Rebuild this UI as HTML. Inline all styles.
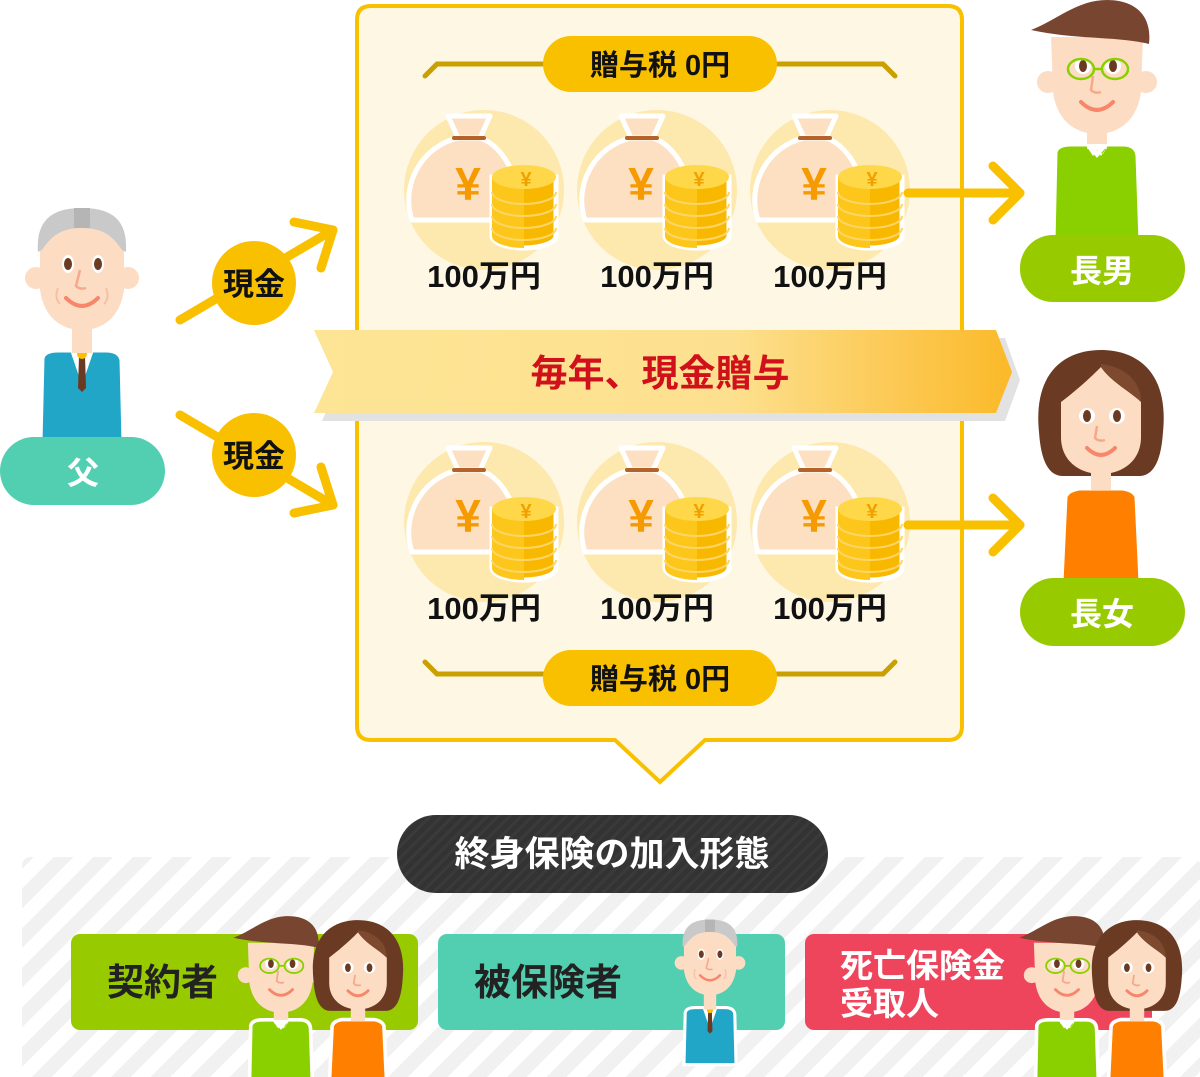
<!DOCTYPE html>
<html><head><meta charset="utf-8"><style>
html,body{margin:0;padding:0;background:#fff;}
svg{display:block;}
text{font-family:"Liberation Sans","Noto Sans CJK JP",sans-serif;font-weight:bold;}
</style></head><body>
<svg width="1200" height="1077" viewBox="0 0 1200 1077" xmlns="http://www.w3.org/2000/svg">
<defs>
<pattern id="st" width="28" height="28" patternUnits="userSpaceOnUse" patternTransform="rotate(45)">
<rect width="28" height="28" fill="#fff"/><rect width="14" height="28" fill="#f1f1f1"/>
</pattern>
<pattern id="dk" width="8" height="8" patternUnits="userSpaceOnUse" patternTransform="rotate(45)">
<rect width="8" height="8" fill="#333"/><rect width="3" height="8" fill="#3a3a3a"/>
</pattern>
<linearGradient id="bn" x1="0" x2="1"><stop offset="0" stop-color="#fde595"/><stop offset="0.6" stop-color="#fde08f"/><stop offset="1" stop-color="#fbb929"/></linearGradient>
<g id="bag">
<circle cx="0" cy="0" r="80" fill="#fde8ad"/>
<path d="M-36,-74 L6,-74 L-4,-52 L-26,-52Z" fill="#fde0c2" stroke="#fff" stroke-width="5" stroke-linejoin="round"/>
<path d="M-26,-52 C-62,-44 -84,-5 -72,30 L32,30 C42,0 22,-44 -4,-52Z" fill="#fde0c2" stroke="#fff" stroke-width="5" stroke-linejoin="round"/>
<line x1="-30" y1="-52" x2="0" y2="-52" stroke="#b4622a" stroke-width="4" stroke-linecap="round"/>
<text x="-16" y="10" font-size="46" fill="#f59a00" text-anchor="middle">¥</text>
<path d="M8,-13 L8,46 A32,12 0 0 0 72,46 L72,-13 Z" fill="#f9b800" stroke="#fff" stroke-width="5"/>
<path d="M8,-13 L8,46 A32,12 0 0 0 40,58 L40,-13 Z" fill="#fcc61a"/>
<g stroke="#fdd66a" stroke-width="2" fill="none">
<path d="M8,2 A32,12 0 0 0 72,2"/><path d="M8,14 A32,12 0 0 0 72,14"/><path d="M8,26 A32,12 0 0 0 72,26"/><path d="M8,38 A32,12 0 0 0 72,38"/></g>
<ellipse cx="40" cy="-13" rx="32" ry="12" fill="#ffd84a"/>
<text x="42" y="-4" font-size="20" fill="#f0a000" text-anchor="middle">¥</text>
</g>
<g id="man">
<path d="M-42,80 Q-40,72 -26,72 L26,72 Q40,72 41,84 L44,170 L-44,170Z" fill="#8acf00" stroke="#fff" stroke-width="5"/>
<rect x="-10" y="55" width="20" height="22" fill="#fddcc4"/>
<path d="M-12,72 L0,86 L12,72 L6,82 Z M-12,72 L-4,84 L0,78 L4,84 L12,72Z" fill="#fff"/>
<circle cx="-49" cy="10" r="11" fill="#fddcc4"/><circle cx="49" cy="10" r="11" fill="#fddcc4"/>
<path d="M-46,-35 L46,-35 L44,20 C40,50 20,62 0,62 C-20,62 -40,50 -44,20Z" fill="#fddcc4"/>
<path d="M-66,-42 C-40,-52 -20,-72 10,-72 C40,-72 55,-55 52,-28 C20,-36 -20,-32 -66,-42Z" fill="#784530"/>
<circle cx="-14" cy="-6" r="8" fill="#fff"/><circle cx="16" cy="-6" r="8" fill="#fff"/>
<ellipse cx="-14" cy="-6" rx="4" ry="6" fill="#6b3a23"/><ellipse cx="16" cy="-6" rx="4" ry="6" fill="#6b3a23"/>
<g fill="none" stroke="#8acf00" stroke-width="2.5"><ellipse cx="-16" cy="-3" rx="13" ry="10"/><ellipse cx="18" cy="-3" rx="13" ry="10"/><line x1="-3" y1="-3" x2="5" y2="-3"/></g>
<path d="M-4,4 L-6,18 Q-2,22 4,20" fill="none" stroke="#f7a88a" stroke-width="2.5"/>
<path d="M-16,30 Q0,46 16,30" fill="none" stroke="#f7866a" stroke-width="4" stroke-linecap="round"/>
</g>
<g id="woman">
<path d="M-36,75 Q-34,68 -22,66 L22,66 Q34,68 36,75 L40,160 L-40,160Z" fill="#ff8000" stroke="#fff" stroke-width="5"/>
<path d="M-62,10 C-68,-50 -36,-72 0,-72 C36,-72 68,-50 62,10 C60,40 52,54 38,54 L-38,54 C-52,54 -60,40 -62,10Z" fill="#6b3a23"/>
<rect x="-10" y="40" width="20" height="28" fill="#fddcc4"/>
<path d="M-40,-20 C-20,-35 -5,-50 0,-55 C10,-40 30,-30 40,-20 L40,15 C40,40 20,52 0,52 C-20,52 -40,40 -40,15Z" fill="#fddcc4"/>
<path d="M0,-55 C10,-40 30,-30 40,-20 C40,-40 25,-55 0,-58Z" fill="#7d4a30"/>
<circle cx="-14" cy="-6" r="8" fill="#fff"/><circle cx="16" cy="-6" r="8" fill="#fff"/>
<ellipse cx="-14" cy="-6" rx="4" ry="6" fill="#6b3a23"/><ellipse cx="16" cy="-6" rx="4" ry="6" fill="#6b3a23"/>
<path d="M-4,4 L-6,16 Q-2,20 4,18" fill="none" stroke="#f7a88a" stroke-width="2.5"/>
<path d="M-14,26 Q0,40 14,26" fill="none" stroke="#f7866a" stroke-width="4" stroke-linecap="round"/>
</g>
<g id="old">
<path d="M-40,88 Q-38,80 -24,80 L24,80 Q38,80 40,90 L42,172 L-42,172Z" fill="#22a6c8" stroke="#fff" stroke-width="5"/>
<path d="M-12,80 L0,115 L12,80Z" fill="#fff"/><path d="M-3,86 L-4,118 L0,122 L4,118 L3,86Z" fill="#6b3a23"/>
<circle cx="0" cy="84" r="5" fill="#f9c000"/>
<rect x="-10" y="55" width="20" height="28" fill="#fddcc4"/>
<circle cx="-46" cy="8" r="11" fill="#fddcc4"/><circle cx="46" cy="8" r="11" fill="#fddcc4"/>
<path d="M-42,-30 C-42,-60 42,-60 42,-30 L42,20 C38,48 20,60 0,60 C-20,60 -38,48 -42,20Z" fill="#fddcc4"/>
<path d="M-44,-18 C-46,-50 -30,-62 0,-62 C30,-62 46,-50 44,-18 L40,-20 C30,-35 20,-42 0,-42 C-20,-42 -30,-35 -40,-20Z" fill="#c9c9c9"/>
<rect x="-8" y="-62" width="16" height="20" fill="#b5b5b5"/>
<ellipse cx="-14" cy="-6" rx="6" ry="9" fill="#fff"/><ellipse cx="16" cy="-6" rx="6" ry="9" fill="#fff"/>
<ellipse cx="-14" cy="-6" rx="4" ry="6" fill="#6b3a23"/><ellipse cx="16" cy="-6" rx="4" ry="6" fill="#6b3a23"/>
<path d="M-2,0 L-6,16 Q-2,20 4,18" fill="none" stroke="#f7a88a" stroke-width="2.5"/>
<path d="M-16,28 Q0,44 16,28" fill="none" stroke="#f7866a" stroke-width="4" stroke-linecap="round"/>
<path d="M-24,18 Q-28,28 -22,34 M24,18 Q28,28 22,34" fill="none" stroke="#f5c0a5" stroke-width="2"/>
</g>
</defs>

<!-- main box -->
<path d="M371,6 L948,6 Q962,6 962,20 L962,726 Q962,740 948,740 L705,740 L660,782 L615,740 L371,740 Q357,740 357,726 L357,20 Q357,6 371,6Z" fill="#fef7e4" stroke="#f9c000" stroke-width="4"/>

<!-- top bracket & pill -->
<path d="M425,76 L437,64 L883,64 L895,76" fill="none" stroke="#c9a000" stroke-width="5" stroke-linecap="round"/>
<rect x="543" y="36" width="234" height="56" rx="28" fill="#f9c000"/>
<text x="660" y="75" font-size="29" text-anchor="middle" fill="#111">贈与税 0円</text>

<use href="#bag" x="484" y="190"/><use href="#bag" x="657" y="190"/><use href="#bag" x="830" y="190"/>
<use href="#bag" x="484" y="522"/><use href="#bag" x="657" y="522"/><use href="#bag" x="830" y="522"/>
<g font-size="31" fill="#111" text-anchor="middle">
<text x="484" y="287">100万円</text><text x="657" y="287">100万円</text><text x="830" y="287">100万円</text>
<text x="484" y="619">100万円</text><text x="657" y="619">100万円</text><text x="830" y="619">100万円</text>
</g>

<!-- banner -->
<path d="M322,338 L1005,338 L1020,380 L1005,421 L322,421 L340,380Z" fill="#e2e2e2"/>
<path d="M314,330 L996,330 L1012,372 L996,413 L314,413 L333,372Z" fill="url(#bn)"/>
<text x="660" y="386" font-size="37" text-anchor="middle" fill="#d0101a">毎年、現金贈与</text>

<!-- bottom bracket & pill -->
<path d="M425,662 L437,674 L883,674 L895,662" fill="none" stroke="#c9a000" stroke-width="5" stroke-linecap="round"/>
<rect x="543" y="650" width="234" height="56" rx="28" fill="#f9c000"/>
<text x="660" y="689" font-size="29" text-anchor="middle" fill="#111">贈与税 0円</text>

<!-- arrows -->
<g fill="none" stroke="#f9c000" stroke-width="9" stroke-linecap="round" stroke-linejoin="round">
<line x1="908" y1="193" x2="1020" y2="193"/><path d="M993,166 L1020,193 L993,220"/>
<line x1="908" y1="525" x2="1020" y2="525"/><path d="M993,498 L1020,525 L993,552"/>
<line x1="180" y1="320" x2="333" y2="230"/><path d="M294,222 L333,230 L321,268"/>
<line x1="180" y1="415" x2="333" y2="505"/><path d="M321,467 L333,505 L294,513"/>
</g>
<circle cx="254" cy="283" r="42" fill="#f9c000"/><text x="254" y="295" font-size="31" text-anchor="middle" fill="#111">現金</text>
<circle cx="254" cy="455" r="42" fill="#f9c000"/><text x="254" y="467" font-size="31" text-anchor="middle" fill="#111">現金</text>

<!-- people top -->
<use href="#old" x="82" y="270"/>
<rect x="0" y="437" width="165" height="68" rx="34" fill="#52cfb0"/>
<text x="83" y="484" font-size="32" text-anchor="middle" fill="#fff">父</text>

<use href="#man" x="1097" y="72"/>
<rect x="1020" y="235" width="165" height="67" rx="33" fill="#97cb00"/>
<text x="1102" y="282" font-size="32" text-anchor="middle" fill="#fff">長男</text>

<use href="#woman" x="1101" y="422"/>
<rect x="1020" y="578" width="165" height="68" rx="34" fill="#97cb00"/>
<text x="1102" y="625" font-size="32" text-anchor="middle" fill="#fff">長女</text>

<!-- bottom section -->
<rect x="22" y="857" width="1178" height="220" rx="8" fill="url(#st)"/>
<rect x="397" y="815" width="431" height="78" rx="39" fill="url(#dk)"/>
<text x="612" y="866" font-size="35" text-anchor="middle" fill="#fff">終身保険の加入形態</text>

<rect x="71" y="934" width="347" height="96" rx="9" fill="#97cb00"/>
<text x="107" y="995" font-size="37" fill="#222">契約者</text>
<rect x="438" y="934" width="347" height="96" rx="9" fill="#52cfb0"/>
<text x="474" y="995" font-size="37" fill="#222">被保険者</text>
<rect x="805" y="934" width="347" height="96" rx="9" fill="#ef455c"/>
<text x="840" y="977" font-size="33" fill="#fff">死亡保険金</text>
<text x="840" y="1015" font-size="33" fill="#fff">受取人</text>

<g transform="translate(281,968) scale(0.72)"><use href="#man"/></g>
<g transform="translate(358,972) scale(0.72)"><use href="#woman"/></g>
<g transform="translate(710,958) scale(0.62)"><use href="#old"/></g>
<g transform="translate(1067,968) scale(0.72)"><use href="#man"/></g>
<g transform="translate(1137,972) scale(0.72)"><use href="#woman"/></g>
</svg>
</body></html>
